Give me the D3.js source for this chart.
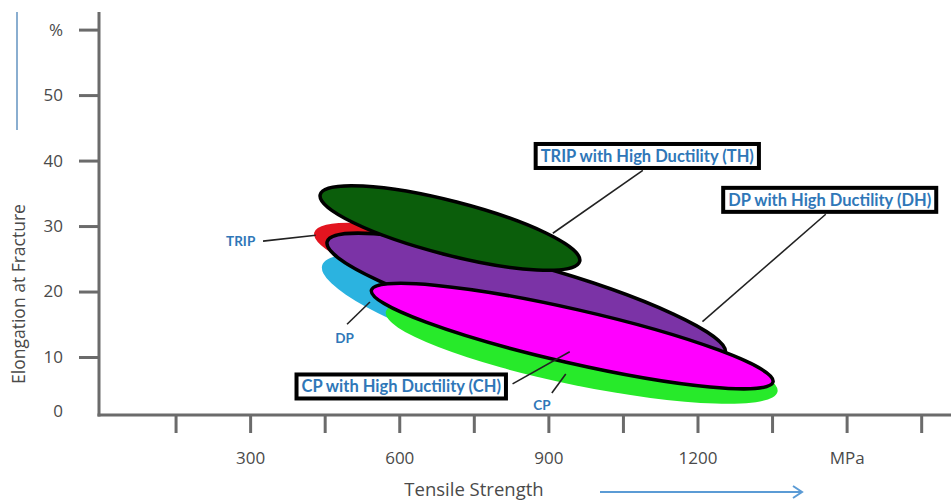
<!DOCTYPE html>
<html><head><meta charset="utf-8">
<script src="https://cdn.jsdelivr.net/npm/d3@7"></script>
<style>
html,body{margin:0;padding:0;background:#fff;}
svg{display:block;}
</style></head>
<body>
<svg id="chart" width="951" height="503"></svg>
<script>
// ---- data ----
const grades     = ["TRIP", "DP", "CP", "DH", "TH", "CH"];
const gradeNames = ["TRIP", "DP", "CP", "DP with High Ductility (DH)", "TRIP with High Ductility (TH)", "CP with High Ductility (CH)"];
// low-strength end of each band (MPa, %)
const tsLow  = [429, 445, 573, 455, 441, 544];
const elLow  = [29.0, 24.0, 16.9, 27.6, 34.8, 20.2];
// high-strength end of each band (MPa, %)
const tsHigh = [923, 1158, 1361, 1256, 963, 1352];
const elHigh = [19.5, 7.4, 4.7, 10.6, 24.6, 6.2];
// half-spread of elongation across the band (%)
const elSpread = [4.2, 5.8, 5.2, 5.1, 4.1, 4.1];

const xTickValues = [150, 300, 450, 600, 750, 900, 1050, 1200, 1350, 1500, 1650];
const xTickLabels = ["", "300", "", "600", "", "900", "", "1200", "", "MPa", ""];
const yTickValues = [10, 20, 30, 40, 50, 60];
const yTickLabels = ["10", "20", "30", "40", "50", "%"];
const yZeroLabel = "0";

// ---- styles ----
const fills   = {TRIP:"#e3141f", DP:"#2bb3e0", CP:"#27ea2a", DH:"#7b33a6", TH:"#0b5e0b", CH:"#ff00ff"};
const strokes = {TRIP:"none", DP:"none", CP:"none", DH:"#000", TH:"#000", CH:"#000"};
const labelBlue = "#2f77b8";
const axisGray = "#6b6b6b";
const textGray = "#4a4a4a";

const svg = d3.select("#chart");
const x = d3.scaleLinear().domain([0, 1712]).range([101, 952]);
const y = d3.scaleLinear().domain([0, 60]).range([422.5, 29.6]);
const axisX = 99, axisBottom = 415, axisTop = 12;

// ---- axes ----
const yAxis = d3.axisLeft(y).tickValues(yTickValues)
  .tickFormat((d,i) => yTickLabels[i]).tickSize(20).tickPadding(16).tickSizeOuter(0);
const gy = svg.append("g").attr("transform", `translate(${axisX},0)`).call(yAxis);
gy.select(".domain").remove();
gy.selectAll(".tick line").attr("stroke", axisGray).attr("stroke-width", 3);
gy.selectAll(".tick text").attr("fill", textGray).style("font-family", "'Open Sans'").style("font-size", "17px");

const xAxis = d3.axisBottom(x).tickValues(xTickValues)
  .tickFormat((d,i) => xTickLabels[i]).tickSize(18).tickPadding(19).tickSizeOuter(0);
const gx = svg.append("g").attr("transform", `translate(0,${axisBottom})`).call(xAxis);
gx.select(".domain").remove();
gx.selectAll(".tick line").attr("stroke", axisGray).attr("stroke-width", 3);
gx.selectAll(".tick text").attr("fill", textGray).style("font-family", "'Open Sans'").style("font-size", "17px");

svg.append("text").attr("x", 63).attr("y", axisBottom - 3).attr("text-anchor", "end")
  .attr("dominant-baseline", "middle").attr("fill", textGray)
  .style("font-family", "'Open Sans'").style("font-size", "17px").text(yZeroLabel);

svg.append("line").attr("x1", axisX).attr("x2", axisX).attr("y1", axisTop).attr("y2", axisBottom + 1.5)
  .attr("stroke", axisGray).attr("stroke-width", 3);
svg.append("line").attr("x1", axisX - 1.5).attr("x2", 951).attr("y1", axisBottom).attr("y2", axisBottom)
  .attr("stroke", axisGray).attr("stroke-width", 3);

// axis titles
svg.append("text").attr("transform", "translate(25,294) rotate(-90)").attr("text-anchor", "middle")
  .attr("fill", textGray).style("font-family", "'Open Sans'").style("font-size", "17.5px")
  .text("Elongation at Fracture");
svg.append("line").attr("x1", 17).attr("x2", 17).attr("y1", 12).attr("y2", 130)
  .attr("stroke", "#8aaed0").attr("stroke-width", 2);
svg.append("text").attr("x", 474).attr("y", 496).attr("text-anchor", "middle")
  .attr("fill", textGray).style("font-family", "'Open Sans'").style("font-size", "18.5px")
  .text("Tensile Strength");
svg.append("line").attr("x1", 600).attr("x2", 802).attr("y1", 492).attr("y2", 492)
  .attr("stroke", "#5b9bd5").attr("stroke-width", 2);
svg.append("path").attr("d", "M793,486 L802,492 L793,498").attr("fill", "none")
  .attr("stroke", "#5b9bd5").attr("stroke-width", 2);

// ---- ellipses ----
const pxPerPct = y(0) - y(1);
const bands = grades.map((g, i) => {
  const x1 = x(tsLow[i]), y1 = y(elLow[i]), x2 = x(tsHigh[i]), y2 = y(elHigh[i]);
  return {g, cx:(x1+x2)/2, cy:(y1+y2)/2, rx:Math.hypot(x2-x1, y2-y1)/2,
          ry:elSpread[i]*pxPerPct, ang:Math.atan2(y2-y1, x2-x1)*180/Math.PI};
});
const order = ["TRIP", "DP", "CP", "DH", "TH", "CH"];
svg.append("g").selectAll("ellipse").data(order.map(g => bands[grades.indexOf(g)])).join("ellipse")
  .attr("cx", 0).attr("cy", 0).attr("rx", d => d.rx).attr("ry", d => d.ry)
  .attr("transform", d => `translate(${d.cx},${d.cy}) rotate(${d.ang})`)
  .attr("fill", d => fills[d.g]).attr("stroke", d => strokes[d.g]).attr("stroke-width", 3.5);

// ---- annotations (anchors in data units) ----
const ann = [
  {i:0, type:"plain", tx:281, ty:27.7, l1:[326,27.7], l2:[432,28.6]},
  {i:1, type:"plain", tx:490, ty:12.9, l1:[495,15.0], l2:[541,18.4]},
  {i:2, type:"plain", tx:887, ty:2.6, l1:[907,4.5], l2:[935,7.4]},
  {i:5, type:"box", tx:604, ty:5.5, l1:[828,5.9], l2:[943,10.8]},
  {i:4, type:"box", tx:1099, ty:40.7, l1:[1090,38.5], l2:[909,28.9]},
  {i:3, type:"box", tx:1466, ty:34.0, l1:[1458,31.8], l2:[1210,15.4]}
];
const ga = svg.append("g");
ann.forEach(a => {
  ga.append("line").attr("x1", x(a.l1[0])).attr("y1", y(a.l1[1])).attr("x2", x(a.l2[0])).attr("y2", y(a.l2[1]))
    .attr("stroke", "#222").attr("stroke-width", 1.6);
});
ann.forEach(a => {
  const t = ga.append("text").attr("x", x(a.tx)).attr("y", y(a.ty)).attr("text-anchor", "middle")
    .attr("dominant-baseline", "central").attr("fill", labelBlue)
    .style("font-family", "Lato").style("font-weight", "bold").style("font-size", a.type === "box" ? "16.5px" : "13.5px")
    .text(gradeNames[a.i]);
  if (a.type === "box") {
    const bb = t.node().getBBox();
    ga.insert("rect", () => t.node()).attr("x", bb.x - 5).attr("y", bb.y - 2)
      .attr("width", bb.width + 10).attr("height", bb.height + 4)
      .attr("fill", "#fff").attr("stroke", "#000").attr("stroke-width", 4);
  }
});
</script>
</body></html>
